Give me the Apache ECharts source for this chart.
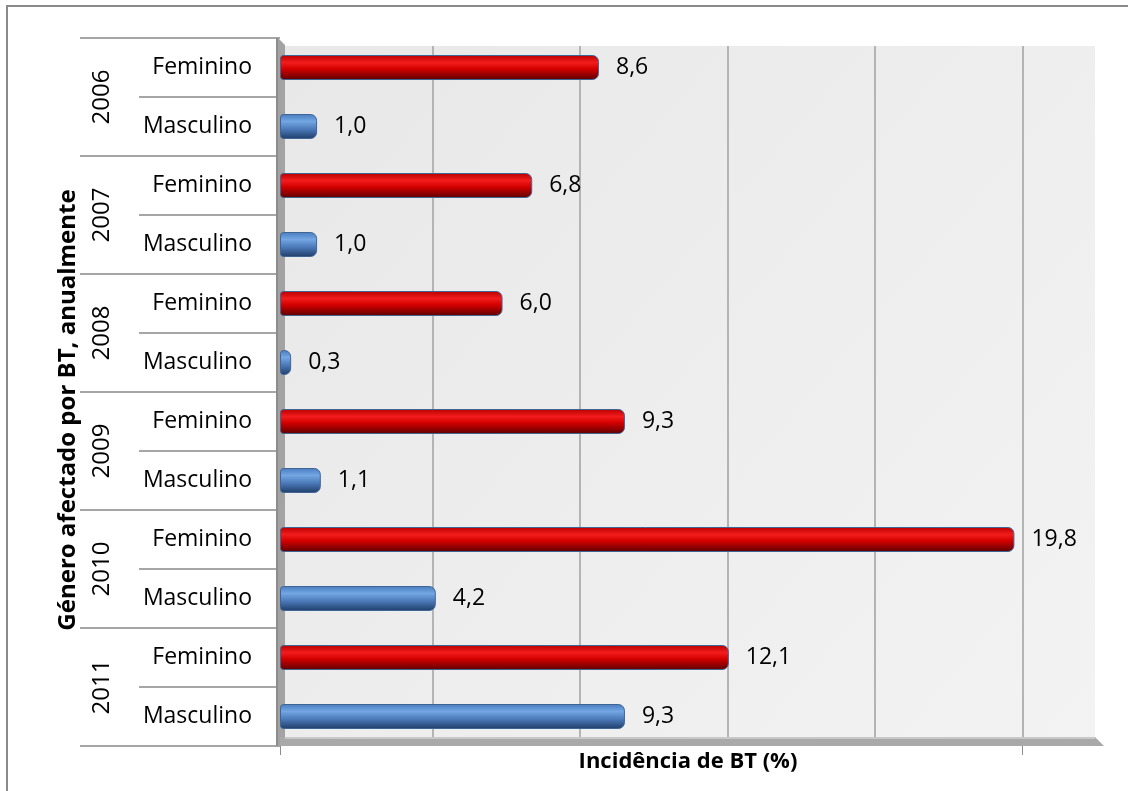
<!DOCTYPE html>
<html><head><meta charset="utf-8">
<script src="https://cdn.jsdelivr.net/npm/echarts@6/dist/echarts.min.js"></script>
<style>html,body{margin:0;padding:0;background:#fff}#c{width:1128px;height:791px}</style>
</head><body><div id="c"></div>
<script>
var years = ['2006','2007','2008','2009','2010','2011'];
var genders = ['Feminino','Masculino'];
var feminino = [8.6, 6.8, 6.0, 9.3, 19.8, 12.1];
var masculino = [1.0, 1.0, 0.3, 1.1, 4.2, 9.3];
var xTitle = 'Incidência de BT (%)';
var yTitle = 'Género afectado por BT, anualmente';

var FONT = 'Open Sans';
var redGrad = {type:'linear',x:0,y:0,x2:0,y2:1,colorStops:[
  {offset:0,color:'#b80000'},{offset:0.3,color:'#f21c1c'},{offset:0.55,color:'#d40000'},{offset:1,color:'#5c0000'}]};
var blueGrad = {type:'linear',x:0,y:0,x2:0,y2:1,colorStops:[
  {offset:0,color:'#4a7cc0'},{offset:0.3,color:'#73a6e2'},{offset:0.6,color:'#4c7aba'},{offset:1,color:'#1f3d68'}]};

var cats = [], vals = [];
years.forEach(function(y, i){
  cats.push(genders[0]); vals.push({value: feminino[i], itemStyle:{color:redGrad}});
  cats.push(genders[1]); vals.push({value: masculino[i], itemStyle:{color:blueGrad}});
});

var chart = echarts.init(document.getElementById('c'));
chart.setOption({
  animation:false,
  textStyle:{fontFamily:FONT},
  graphic:[
    {type:'rect',z:-10,shape:{x:7,y:6,width:1140,height:800},style:{fill:'#fff',stroke:'#8a8a8a',lineWidth:2}},
    {type:'polygon',z:-5,shape:{points:[[285,46],[1095,46],[1095,738],[285,738]]},
      style:{fill:{type:'linear',x:0,y:0,x2:1,y2:1,colorStops:[{offset:0,color:'#e8e8e8'},{offset:1,color:'#f3f3f3'}]}}},
    {type:'polygon',z:1,shape:{points:[[276,38],[278,38],[285,45],[285,746],[276,746]]},style:{fill:'#a3a3a3'}},
    {type:'line',z:1,shape:{x1:277,y1:38,x2:277,y2:746},style:{stroke:'#8c8c8c',lineWidth:2}},
    {type:'polygon',z:1,shape:{points:[[280,737],[1095,737],[1104,746],[280,746]]},style:{fill:'#a9a9a9'}},
    {type:'line',z:1,shape:{x1:285,y1:738,x2:1095,y2:738},style:{stroke:'#c8c8c8',lineWidth:2}}
  ],
  grid:[
    {left:280,top:38,width:816,height:708},
    {left:285,top:46,width:811,height:692}
  ],
  xAxis:[
    {gridIndex:0,type:'value',min:0,max:22,interval:4,
     axisLine:{show:false},
     axisTick:{show:true,customValues:[0,20],length:9,lineStyle:{color:'#8c8c8c',width:1}},
     axisLabel:{show:false},splitLine:{show:false},
     name:xTitle,nameLocation:'middle',nameGap:5,
     nameTextStyle:{fontFamily:FONT,fontWeight:'bold',fontSize:22,color:'#000',verticalAlign:'top'}},
    {gridIndex:1,type:'value',min:0,max:22,interval:4,
     axisLine:{show:false},axisTick:{show:false},axisLabel:{show:false},
     splitLine:{show:true,showMinLine:false,showMaxLine:false,lineStyle:{color:'#b4b4b4',width:2}}}
  ],
  yAxis:[
    {gridIndex:0,type:'category',data:cats,inverse:true,
     axisLine:{show:false},
     axisTick:{show:true,length:141,lineStyle:{color:'#a6a6a6',width:2}},
     axisLabel:{fontFamily:FONT,fontSize:23,color:'#000',margin:28},
     name:yTitle,nameLocation:'middle',nameGap:200,nameRotate:90,
     nameTextStyle:{fontFamily:FONT,fontWeight:'bold',fontSize:24,color:'#000',padding:[0,36,0,0]}},
    {gridIndex:0,type:'category',data:years,inverse:true,position:'left',
     axisLine:{show:false},
     axisTick:{show:true,length:200,lineStyle:{color:'#a6a6a6',width:2}},
     axisLabel:{fontFamily:FONT,fontSize:24,color:'#000',margin:166,rotate:90}},
    {gridIndex:1,type:'category',data:cats,inverse:true,show:false}
  ],
  series:[{
    type:'bar',xAxisIndex:0,yAxisIndex:0,data:vals,barWidth:25,z:10,
    itemStyle:{borderColor:'#3f6595',borderWidth:1,borderRadius:[3,6,6,3]},
    label:{show:true,position:'right',distance:17,fontFamily:FONT,fontSize:23,color:'#000',
      formatter:function(p){return p.value.toFixed(1).replace('.',',');}}
  }]
});
</script></body></html>
